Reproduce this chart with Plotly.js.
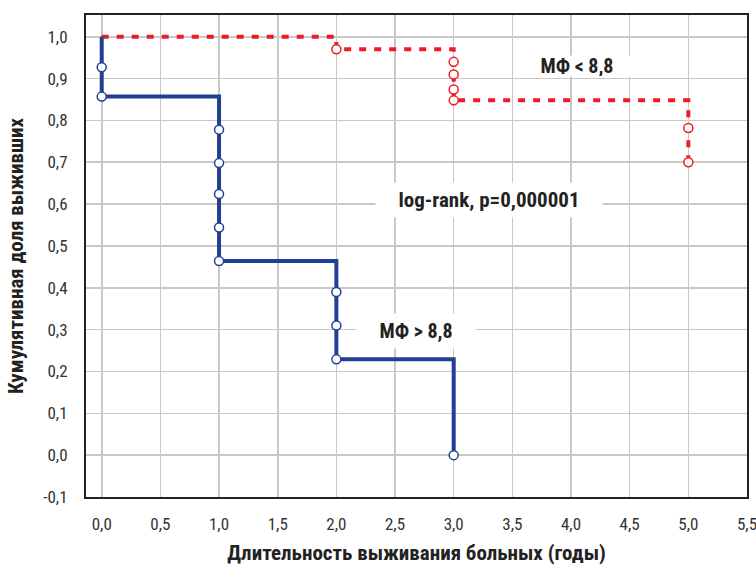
<!DOCTYPE html>
<html>
<head>
<meta charset="utf-8">
<script src="https://cdn.plot.ly/plotly-3.0.1.min.js"></script>
<style>html,body{margin:0;padding:0;background:#fff;}#chart{width:756px;height:567px;}</style>
</head>
<body>
<div id="chart"></div>
<script>
// Group "МФ > 8,8" (blue) step curve
const blueTimes = [0, 0, 1, 2, 3];
const blueSurv  = [1.0, 0.857, 0.464, 0.229, 0.0];
// Censor marks for blue
const blueMarkX = [0, 0, 1, 1, 1, 1, 1, 2, 2, 2, 3];
const blueMarkY = [0.927, 0.857, 0.778, 0.698, 0.624, 0.544, 0.464, 0.390, 0.310, 0.229, 0.0];

// Group "МФ < 8,8" (red) step curve
const redTimes = [0, 2, 3, 5];
const redSurv  = [1.0, 0.970, 0.848, 0.700];
const redMarkX = [2, 3, 3, 3, 3, 5, 5];
const redMarkY = [0.970, 0.940, 0.910, 0.874, 0.848, 0.782, 0.700];

const xTickVals = [0, 0.5, 1, 1.5, 2, 2.5, 3, 3.5, 4, 4.5, 5, 5.5];
const xTickText = ['0,0','0,5','1,0','1,5','2,0','2,5','3,0','3,5','4,0','4,5','5,0','5,5'];
const yTickVals = [-0.1, 0, 0.1, 0.2, 0.3, 0.4, 0.5, 0.6, 0.7, 0.8, 0.9, 1.0];
const yTickText = ['-0,1','0,0','0,1','0,2','0,3','0,4','0,5','0,6','0,7','0,8','0,9','1,0'];

const labelHigh = 'МФ > 8,8';
const labelLow = 'МФ < 8,8';
const labelTest = 'log-rank, p=0,000001';
const xTitle = 'Длительность выживания больных (годы)';
const yTitle = 'Кумулятивная доля выживших';

const BLUE = '#233f94';
const RED = '#ec1c26';
const FONT = '"Roboto Condensed", "Liberation Sans Narrow", "DejaVu Sans Condensed", Roboto, sans-serif';

const traces = [
  {x: redTimes, y: redSurv, mode: 'lines', line: {shape: 'hv', color: RED, width: 4, dash: '7px,8px'}, hoverinfo: 'skip'},
  {x: blueTimes, y: blueSurv, mode: 'lines', line: {shape: 'hv', color: BLUE, width: 4}, hoverinfo: 'skip'},
  {x: redMarkX, y: redMarkY, mode: 'markers', marker: {symbol: 'circle', size: 9, color: '#fff', line: {color: RED, width: 1.5}}},
  {x: blueMarkX, y: blueMarkY, mode: 'markers', marker: {symbol: 'circle', size: 9, color: '#fff', line: {color: BLUE, width: 1.5}}}
];

const layout = {
  width: 756, height: 567,
  margin: {l: 86, r: 9, t: 15, b: 70},
  paper_bgcolor: '#fff', plot_bgcolor: '#fff',
  showlegend: false,
  font: {family: FONT, color: '#222'},
  xaxis: {
    range: [-0.134, 5.5], tickvals: xTickVals, ticktext: xTickText,
    showgrid: true, gridcolor: '#c8c8c8', gridwidth: 1.6, zeroline: false,
    showline: true, linecolor: '#222', linewidth: 2, mirror: true,
    ticks: '', ticklabelstandoff: 11, ticklabeloverflow: 'allow',
    tickfont: {family: FONT, size: 17, color: '#333'},
    title: {text: xTitle, font: {family: FONT, size: 21, color: '#222', weight: 'bold'}, standoff: 12}
  },
  yaxis: {
    range: [-0.1, 1.052], tickvals: yTickVals, ticktext: yTickText,
    showgrid: true, gridcolor: '#c8c8c8', gridwidth: 1.6, zeroline: false,
    showline: true, linecolor: '#222', linewidth: 2, mirror: true,
    ticks: '', ticklabelstandoff: 13, ticklabeloverflow: 'allow',
    tickfont: {family: FONT, size: 17, color: '#333'},
    title: {text: yTitle, font: {family: FONT, size: 21, color: '#222', weight: 'bold'}, standoff: 14}
  },
  annotations: [
    {x: 4.05, y: 0.93, xref: 'x', yref: 'y', text: labelLow, showarrow: false,
     font: {family: FONT, size: 20, color: '#222', weight: 'bold'}, bgcolor: '#fff', width: 118, height: 20, borderpad: 0},
    {x: 3.3, y: 0.61, xref: 'x', yref: 'y', text: labelTest, showarrow: false,
     font: {family: FONT, size: 21, color: '#222', weight: 'bold'}, bgcolor: '#fff', width: 226, height: 34, borderpad: 0},
    {x: 2.68, y: 0.296, xref: 'x', yref: 'y', text: labelHigh, showarrow: false,
     font: {family: FONT, size: 20, color: '#222', weight: 'bold'}, bgcolor: '#fff', width: 118, height: 34, borderpad: 0}
  ]
};

Plotly.newPlot('chart', traces, layout, {displayModeBar: false, staticPlot: true});
</script>
</body>
</html>
